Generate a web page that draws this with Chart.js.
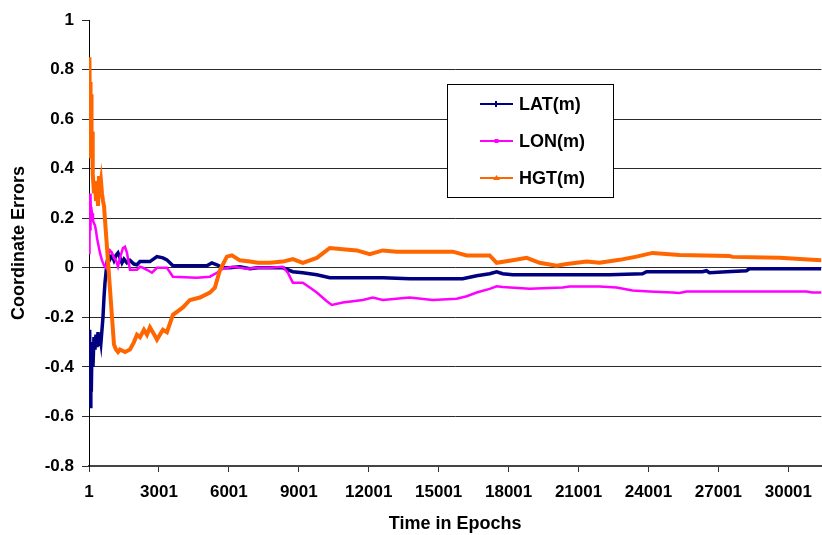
<!DOCTYPE html>
<html>
<head>
<meta charset="utf-8">
<script src="https://cdn.jsdelivr.net/npm/chart.js@4/dist/chart.umd.min.js"></script>
<style>
  html, body { margin: 0; padding: 0; background: #ffffff; }
  canvas { display: block; }
</style>
</head>
<body>
<canvas id="c" width="822" height="535"></canvas>
<script>
// ---- data ----
const xTickEpochs = [1, 3001, 6001, 9001, 12001, 15001, 18001, 21001, 24001, 27001, 30001];
const yTickValues = [-0.8, -0.6, -0.4, -0.2, 0, 0.2, 0.4, 0.6, 0.8, 1];
const seriesNames = ["LAT(m)", "LON(m)", "HGT(m)"];

const latEpochs = [1, 20, 40, 60, 80, 100, 130, 170, 215, 258, 301, 344, 387, 430, 472, 515, 558, 600, 644, 687, 730, 772, 815, 858, 901, 987, 1073, 1158, 1244, 1330, 1415, 1501, 1630, 1758, 1930, 2058, 2187, 2315, 2615, 2915, 3172, 3344, 3601, 5058, 5272, 5487, 5744, 6044, 6473, 6902, 7245, 7759, 8316, 8744, 9173, 9773, 10330, 12602, 13759, 16031, 16631, 17188, 17488, 17745, 18174, 22331, 23745, 23917, 26317, 26488, 26616, 27345, 28203, 28331, 31417];
const latValues = [-0.25, -0.45, -0.3, -0.56, -0.35, -0.5, -0.3, -0.4, -0.28, -0.33, -0.27, -0.32, -0.26, -0.31, -0.27, -0.3, -0.25, -0.2, -0.12, -0.06, -0.02, 0.02, 0.04, 0.045, 0.035, 0.05, 0.03, 0.05, 0.06, 0.04, 0.02, 0.035, 0.02, 0.03, 0.015, 0.012, 0.025, 0.025, 0.025, 0.045, 0.04, 0.032, 0.008, 0.008, 0.02, 0.012, 0.0, 0.0, 0.004, -0.004, 0.0, 0.0, 0.0, -0.016, -0.02, -0.028, -0.04, -0.04, -0.044, -0.044, -0.032, -0.024, -0.016, -0.024, -0.028, -0.028, -0.024, -0.016, -0.016, -0.012, -0.02, -0.016, -0.012, -0.004, -0.004];

const lonEpochs = [1, 15, 30, 45, 60, 75, 87, 130, 172, 215, 258, 301, 344, 387, 472, 558, 644, 730, 815, 901, 987, 1073, 1158, 1244, 1330, 1458, 1544, 1630, 1758, 2058, 2187, 2315, 2487, 2701, 2915, 3344, 3601, 4630, 5187, 5487, 5744, 6173, 6773, 7245, 7759, 8316, 8530, 8744, 9173, 9473, 9773, 10202, 10416, 10888, 11745, 12173, 12602, 13759, 14745, 15774, 16202, 16631, 17188, 17488, 17745, 18903, 20317, 20617, 21902, 22631, 23317, 24045, 25031, 25331, 25631, 28203, 30774, 31031, 31417];
const lonValues = [0.06, 0.25, 0.1, 0.3, 0.15, 0.28, 0.2, 0.22, 0.19, 0.18, 0.17, 0.15, 0.12, 0.1, 0.06, 0.03, 0.01, 0.0, 0.05, 0.07, 0.06, 0.04, 0.03, 0.005, 0.04, 0.08, 0.085, 0.06, -0.008, -0.008, 0.004, 0.0, -0.008, -0.02, 0.0, 0.0, -0.036, -0.04, -0.036, -0.02, -0.004, 0.004, -0.004, 0.0, 0.0, 0.004, -0.02, -0.06, -0.06, -0.08, -0.1, -0.135, -0.15, -0.14, -0.13, -0.12, -0.13, -0.12, -0.13, -0.125, -0.115, -0.1, -0.085, -0.075, -0.078, -0.085, -0.08, -0.076, -0.076, -0.08, -0.092, -0.096, -0.1, -0.102, -0.096, -0.096, -0.096, -0.1, -0.1];

const hgtEpochs = [1, 10, 20, 30, 44, 60, 75, 87, 110, 130, 150, 172, 215, 258, 301, 344, 387, 430, 472, 515, 558, 601, 644, 858, 1073, 1158, 1244, 1330, 1544, 1758, 1930, 2058, 2187, 2358, 2487, 2615, 2801, 2915, 3172, 3344, 3601, 4030, 4330, 4758, 5187, 5401, 5616, 5916, 6130, 6473, 6902, 7245, 7759, 8316, 8744, 9173, 9773, 10330, 10888, 11487, 12044, 12602, 13202, 14188, 15602, 16202, 17188, 17488, 18174, 18774, 19331, 20060, 20488, 21345, 21902, 22760, 23488, 24174, 25331, 27474, 27603, 29617, 31031, 31417];
const hgtValues = [0.45, 0.8, 0.6, 0.85, 0.55, 0.75, 0.5, 0.7, 0.45, 0.55, 0.4, 0.38, 0.3, 0.35, 0.27, 0.33, 0.25, 0.37, 0.32, 0.35, 0.3, 0.27, 0.25, -0.03, -0.31, -0.33, -0.34, -0.33, -0.34, -0.33, -0.3, -0.27, -0.28, -0.25, -0.27, -0.24, -0.27, -0.29, -0.25, -0.26, -0.19, -0.16, -0.13, -0.12, -0.1, -0.08, -0.01, 0.045, 0.05, 0.03, 0.025, 0.02, 0.02, 0.025, 0.035, 0.02, 0.04, 0.08, 0.075, 0.07, 0.055, 0.07, 0.065, 0.065, 0.065, 0.05, 0.05, 0.02, 0.03, 0.04, 0.02, 0.008, 0.015, 0.025, 0.02, 0.032, 0.045, 0.06, 0.052, 0.048, 0.044, 0.04, 0.032, 0.03];

// ---- build datasets ----
function pts(xs, ys) { return xs.map((x, i) => ({ x: x, y: ys[i] })); }

const FONT = "'Liberation Sans', Arial, sans-serif";

const legendBox = {
  id: 'legendBox',
  afterDraw(chart) {
    const ctx = chart.ctx;
    ctx.save();
    ctx.fillStyle = '#ffffff';
    ctx.fillRect(447.5, 84.5, 166, 113);
    ctx.strokeStyle = '#000000';
    ctx.lineWidth = 1;
    ctx.strokeRect(447.5, 84.5, 166, 113);
    const rows = [104, 141, 178];
    chart.data.datasets.forEach((ds, i) => {
      const y = rows[i];
      ctx.strokeStyle = ds.borderColor;
      ctx.lineWidth = 2;
      ctx.beginPath();
      ctx.moveTo(480, y);
      ctx.lineTo(513, y);
      ctx.stroke();
      ctx.fillStyle = ds.borderColor;
      if (i === 0) {
        ctx.fillRect(495, y - 3, 2, 6);
      } else if (i === 1) {
        ctx.fillRect(494.5, y - 2, 4, 4);
      } else {
        ctx.beginPath();
        ctx.moveTo(496.5, y - 3);
        ctx.lineTo(500, y + 2);
        ctx.lineTo(493, y + 2);
        ctx.closePath();
        ctx.fill();
      }
      ctx.fillStyle = '#000000';
      ctx.font = 'bold 18px ' + FONT;
      ctx.textBaseline = 'middle';
      ctx.textAlign = 'left';
      ctx.fillText(ds.label, 519, y + 1);
    });
    ctx.restore();
  }
};

new Chart(document.getElementById('c'), {
  type: 'line',
  data: {
    datasets: [
      { label: seriesNames[0], data: pts(latEpochs, latValues), borderColor: '#000080', backgroundColor: '#000080', borderWidth: 3.5, pointRadius: 0, tension: 0, order: 3 },
      { label: seriesNames[1], data: pts(lonEpochs, lonValues), borderColor: '#FF00FF', backgroundColor: '#FF00FF', borderWidth: 2.5, pointRadius: 0, tension: 0, order: 2 },
      { label: seriesNames[2], data: pts(hgtEpochs, hgtValues), borderColor: '#FF6600', backgroundColor: '#FF6600', borderWidth: 4, pointRadius: 0, tension: 0, order: 1 }
    ]
  },
  options: {
    responsive: false,
    animation: false,
    devicePixelRatio: 1,
    layout: { padding: { top: 20, right: 0, left: 0, bottom: 0 } },
    plugins: { legend: { display: false }, tooltip: { enabled: false } },
    scales: {
      x: {
        type: 'linear',
        min: 1,
        max: 31417,
        afterBuildTicks(scale) { scale.ticks = xTickEpochs.map(v => ({ value: v })); },
        afterFit(scale) { scale.height = 69; },
        ticks: {
          color: '#000000',
          font: { family: FONT, size: 17, weight: 'bold' },
          padding: 10,
          maxRotation: 0,
          autoSkip: false,
          callback: (v) => String(v)
        },
        grid: { drawOnChartArea: false, drawTicks: true, tickLength: 6, color: '#333333' },
        border: { display: true, color: '#444444', width: 2 },
        title: { display: true, text: 'Time in Epochs', color: '#000000', font: { family: FONT, size: 18, weight: 'bold' }, padding: { top: 0, bottom: 0 } }
      },
      y: {
        min: -0.8,
        max: 1,
        afterBuildTicks(scale) { scale.ticks = yTickValues.map(v => ({ value: v })); },
        afterFit(scale) { scale.width = 89; },
        ticks: {
          color: '#000000',
          font: { family: FONT, size: 17, weight: 'bold' },
          padding: 8,
          callback: (v) => String(Math.round(v * 10) / 10)
        },
        grid: {
          drawTicks: true,
          tickLength: 7,
          color: (c) => (c.tick && Math.abs(c.tick.value - 1) < 1e-9) ? 'rgba(0,0,0,0)' : '#2a2a2a',
          tickColor: '#2a2a2a',
          lineWidth: 1
        },
        border: { display: true, color: '#000000', width: 1 },
        title: { display: true, text: 'Coordinate Errors', color: '#000000', font: { family: FONT, size: 18, weight: 'bold' }, padding: { top: 8, bottom: 0 } }
      }
    }
  },
  plugins: [legendBox]
});
</script>
</body>
</html>
